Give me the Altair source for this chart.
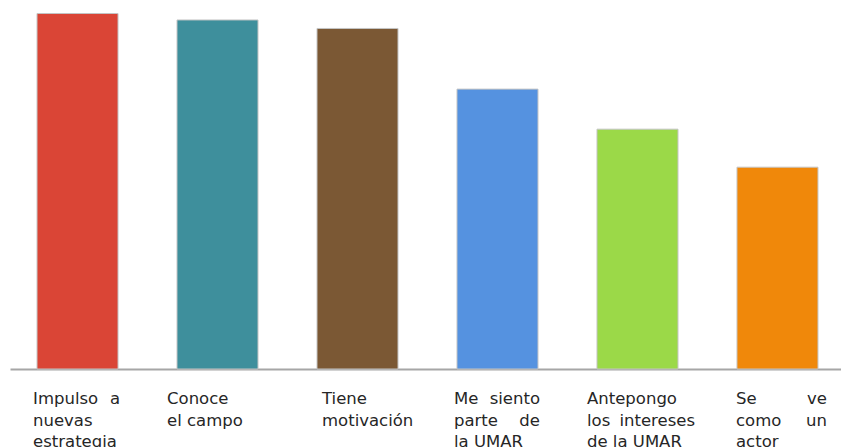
import altair as alt
import pandas as pd

# Bar data
categories = [
    "Impulso a nuevas estrategia",
    "Conoce el campo",
    "Tiene motivación",
    "Me siento parte de la UMAR",
    "Antepongo los intereses de la UMAR",
    "Se ve como un actor",
]
values = [87.9, 86.3, 84.2, 69.2, 59.3, 49.9]
colors = ["#DA4536", "#3E8F9C", "#7B5834", "#5592E0", "#9BD948", "#F0880A"]

# Category labels, broken into lines as printed under each bar
label_lines = [
    ["Impulso a", "nuevas", "estrategia"],
    ["Conoce", "el campo"],
    ["Tiene", "motivación"],
    ["Me siento", "parte de", "la UMAR"],
    ["Antepongo", "los intereses", "de la UMAR"],
    ["Se ve", "como un", "actor"],
]

# Text box edges for each label block, in pixels from the left edge of its bar
box_left = [-4, -10, 5, -3, -10, -1]
box_right = [83, 83, 83, 83, 98, 90]

W, H = 831, 364
LINE_H = 21.5
FIRST_BASELINE = 399
FONT = "DejaVu Sans"
FONT_SIZE = 16.5
TEXT_COLOR = "#262626"

bars_df = pd.DataFrame({"cat": categories, "value": values})

# Justified lines: every line except the last of a block, when it has two words,
# has its first word flush left and the remainder flush right.
rows = []
for ci, (cat, lines) in enumerate(zip(categories, label_lines)):
    for li, line in enumerate(lines):
        words = line.split(" ")
        justified = li < len(lines) - 1 and len(words) > 1
        left = words[0] if justified else line
        right = " ".join(words[1:]) if justified else ""
        rows.append({"cat": cat, "line": li, "left": left, "right": right,
                     "offL": box_left[ci], "offR": box_right[ci]})
labels_df = pd.DataFrame(rows)

x_scale = alt.Scale(range=[0, 835], paddingInner=0.4214, paddingOuter=0.193)
x_enc = alt.X("cat:N", sort=categories, scale=x_scale,
              axis=alt.Axis(labels=False, ticks=False, title=None, grid=False,
                            domainColor="#A6A6A6", domainWidth=2))

bars = alt.Chart(bars_df).mark_bar(stroke="#C4C4C4", strokeWidth=1).encode(
    x=x_enc,
    y=alt.Y("value:Q", scale=alt.Scale(domain=[0, 90]), axis=None),
    color=alt.Color("cat:N", sort=categories,
                    scale=alt.Scale(domain=categories, range=colors), legend=None),
)

layers = [bars]
max_lines = max(len(l) for l in label_lines)
for li in range(max_lines):
    y_px = FIRST_BASELINE + li * LINE_H
    base = alt.Chart(labels_df).transform_filter(alt.datum.line == li)
    left_txt = base.mark_text(align="left", baseline="alphabetic", font=FONT,
                              fontSize=FONT_SIZE, color=TEXT_COLOR).encode(
        x=alt.X("cat:N", sort=categories),
        xOffset=alt.XOffset("offL:Q", scale=None),
        y=alt.value(y_px),
        text="left:N",
    )
    right_txt = base.transform_filter(alt.datum.right != "").mark_text(
        align="right", baseline="alphabetic", font=FONT,
        fontSize=FONT_SIZE, color=TEXT_COLOR).encode(
        x=alt.X("cat:N", sort=categories),
        xOffset=alt.XOffset("offR:Q", scale=None),
        y=alt.value(y_px),
        text="right:N",
    )
    layers += [left_txt, right_txt]

chart = alt.layer(*layers).properties(
    width=W,
    height=H,
    autosize=alt.AutoSizeParams(type="none"),
    padding={"left": 10, "top": 5, "right": 0, "bottom": 78},
    background="white",
).configure_view(stroke=None)

chart.save("out.html", embed_options={"renderer": "svg", "actions": False})
